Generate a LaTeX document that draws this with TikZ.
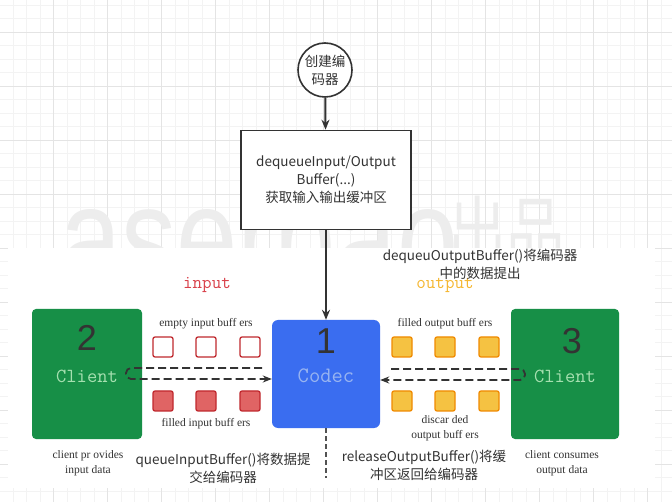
\documentclass[tikz,border=0pt]{standalone}
\usepackage{fontspec}
\setmainfont{Liberation Serif}
\newfontfamily\cjk{Noto Sans CJK SC}
\newfontfamily\numfont{Liberation Sans}
\newfontfamily\markfont{Liberation Sans}
\usetikzlibrary{arrows.meta,positioning}

\definecolor{gridminor}{HTML}{F3F3F3}
\definecolor{gridmajor}{HTML}{E4E4E4}
\definecolor{clientgreen}{HTML}{178F47}
\definecolor{clienttext}{HTML}{A6E0B0}
\definecolor{codecblue}{HTML}{3A6DF0}
\definecolor{codectext}{HTML}{98B4F0}
\definecolor{bufred}{HTML}{C0282E}
\definecolor{bufredfill}{HTML}{E06464}
\definecolor{bufor}{HTML}{F08A00}
\definecolor{bufyellow}{HTML}{F5C242}
\definecolor{inred}{HTML}{D9414A}
\definecolor{outyellow}{HTML}{F5B731}
\definecolor{ink}{HTML}{333333}

\begin{document}
\begin{tikzpicture}[x=1pt,y=-1pt,
    every node/.style={inner sep=0pt, text=ink},
    startnode/.style={circle, draw=ink, line width=1.6pt, fill=white, minimum size=54,
        align=center, font=\cjk\fontsize{13.5}{18}\selectfont},
    stepbox/.style={draw=ink, line width=1.6pt, fill=white, minimum width=170,
        minimum height=99, align=center, font=\cjk\fontsize{13.5}{18}\selectfont},
    clientbox/.style={fill=clientgreen, rounded corners=4, minimum width=110, minimum height=130},
    codecbox/.style={fill=codecblue, rounded corners=6, minimum size=108},
    bignum/.style={font=\numfont\fontsize{36}{36}\selectfont},
    boxname/.style={font=\ttfamily\fontsize{20}{20}\selectfont},
    emptybuf/.style={draw=bufred, line width=1.3pt, fill=white, rounded corners=2, minimum size=20},
    fullbuf/.style={emptybuf, fill=bufredfill},
    outbuf/.style={draw=bufor, line width=1.3pt, fill=bufyellow, rounded corners=2, minimum size=20},
    buflabel/.style={font=\fontsize{11.5}{15}\selectfont, align=center},
    calllabel/.style={font=\cjk\fontsize{13.5}{18}\selectfont, align=center},
    mainflow/.style={draw=ink, line width=2pt, -{Stealth[length=10pt,width=8pt]}},
    flow/.style={draw=ink, line width=1.8pt, dash pattern=on 8pt off 4pt, rounded corners=5,
        -{Stealth[length=9pt,width=7pt]}},
    ]
\useasboundingbox (0,0) rectangle (672,502);

% grid paper
\foreach \x in {-0.5,13,...,672} \draw[gridminor, line width=0.8pt] (\x,0) -- (\x,502);
\foreach \y in {5,18.5,...,502} \draw[gridminor, line width=0.8pt] (0,\y) -- (672,\y);
\foreach \x in {53.5,107.5,...,672} \draw[gridmajor, line width=0.8pt] (\x,0) -- (\x,502);
\foreach \y in {32,86,...,502} \draw[gridmajor, line width=0.8pt] (0,\y) -- (672,\y);

% watermark
\node[anchor=base west, xscale=0.76, text=black!7, font=\markfont\fontsize{145}{145}\selectfont]
    (mark) at (60,288) {aserbao};
\node[anchor=base west, xscale=0.75, text=black!7, font=\cjk\fontsize{78}{78}\selectfont]
    (markcn) at (448,262) {出品};

% pasted lower picture
\fill[white] (8,248) rectangle (655,488);

\node[startnode] (create) at (325,70) {创建编\\码器};
\node[stepbox] (dequeue) at (326,180) {dequeueInput/Output\\Buffer(...)\\获取输入输出缓冲区};

\node[clientbox] (client2) at (87,374) {};
\node[codecbox] (codec) at (326,374) {};
\node[clientbox, minimum width=108] (client3) at (565,374) {};

\node[bignum] (num2) at (87,338) {2};
\node[bignum] (num1) at (326,341) {1};
\node[bignum] (num3) at (572,341) {3};
\node[boxname, text=clienttext] (name2) at (87,376) {Client};
\node[boxname, text=codectext, font=\ttfamily\fontsize{22}{22}\selectfont] (name1) at (326,376) {Codec};
\node[boxname, text=clienttext] (name3) at (565,376) {Client};

% buffers
\foreach \x [count=\i] in {163,206,250} {
    \node[emptybuf] (empty\i) at (\x,347) {};
    \node[fullbuf] (filled\i) at (\x,401) {};
}
\foreach \x [count=\i] in {402,445,489} {
    \node[outbuf] (outfull\i) at (\x,347) {};
    \node[outbuf] (outdone\i) at (\x,401) {};
}

\node[font=\ttfamily\fontsize{18.5}{18.5}\selectfont, text=inred] (inlabel) at (207,285) {input};
\node[font=\ttfamily\fontsize{18.5}{18.5}\selectfont, text=outyellow] (outlabel) at (445,285) {output};
\node[buflabel, above=7pt of empty2] {empty input buff ers};
\node[buflabel, below=7pt of filled2] {filled input buff ers};
\node[buflabel, above=7pt of outfull2] {filled output buff ers};
\node[buflabel, below=4pt of outdone2] {discar ded\\output buff ers};

\node[buflabel] (provides) at (88,463) {client pr ovides\\input data};
\node[buflabel] (consumes) at (562,463) {client consumes\\output data};
\node[calllabel] (queuein) at (223,468) {queueInputBuffer()将数据提\\交给编码器};
\node[calllabel] (release) at (424,465) {releaseOutputBuffer()将缓\\冲区返回给编码器};
\node[calllabel] (dequeueout) at (480,264) {dequeuOutputBuffer()将编码器\\中的数据提出};

% connectors
\coordinate (inback) at (262,368);
\coordinate (outback) at (391,369);
\coordinate (codecend) at (326,478);

\draw[mainflow] (create) -- (dequeue);
\draw[mainflow] (dequeue) -- (codec);
\draw[flow] (inback) -- (126,368) -- (126,379) -- (codec.west |- 0,379);
\draw[flow] (outback) -- (525,369) -- (525,380) -- (codec.east |- 0,380);
\draw[draw=ink!85, line width=1.4pt, dash pattern=on 5pt off 3pt] (codec) -- (codecend);
\end{tikzpicture}
\end{document}
